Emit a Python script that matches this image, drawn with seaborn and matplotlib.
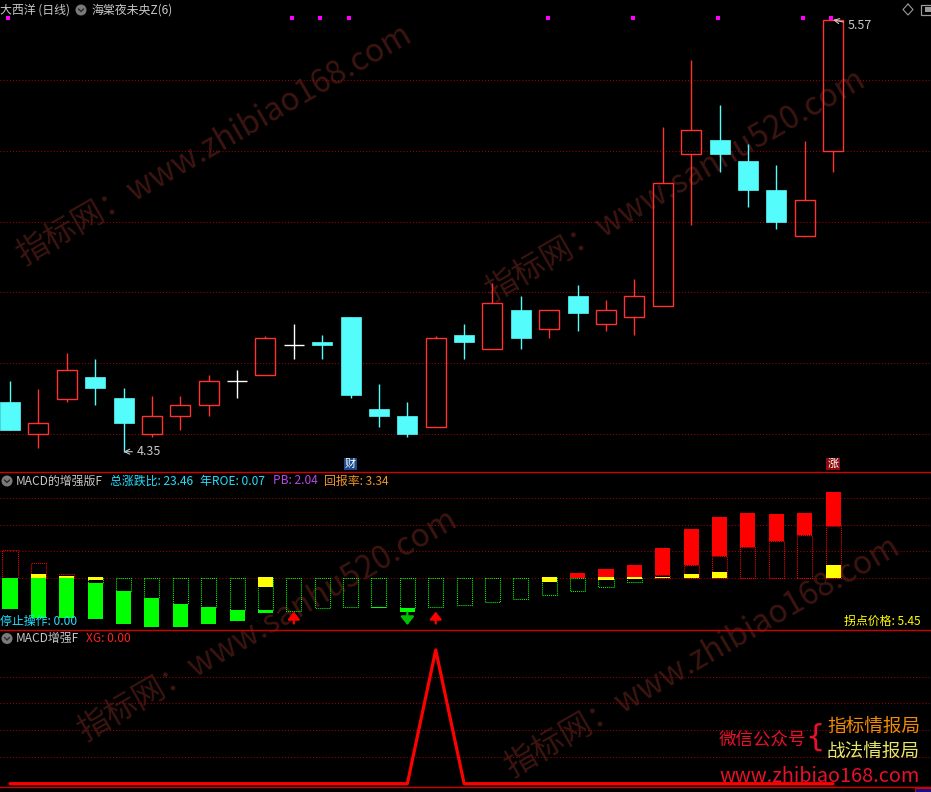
import numpy as np
import pandas as pd
import seaborn as sns
import matplotlib.pyplot as plt
from matplotlib.patches import Rectangle, Circle

# daily candles, prices
opens = [4.490, 4.400, 4.500, 4.561, 4.502, 4.399, 4.450, 4.481, 4.549, 4.568,
         4.651, 4.660, 4.731, 4.471, 4.451, 4.419, 4.680, 4.639, 4.749, 4.697,
         4.790, 4.710, 4.730, 4.761, 5.190, 5.231, 5.171, 5.089, 4.958, 5.199]
highs = [4.550, 4.527, 4.629, 4.612, 4.530, 4.507, 4.507, 4.567, 4.581, 4.677,
         4.711, 4.680, 4.731, 4.541, 4.490, 4.677, 4.711, 4.826, 4.790, 4.749,
         4.821, 4.779, 4.837, 5.267, 5.457, 5.329, 5.219, 5.160, 5.228, 5.570]
lows = [4.411, 4.361, 4.491, 4.483, 4.350, 4.392, 4.412, 4.452, 4.503, 4.568,
        4.612, 4.613, 4.503, 4.421, 4.392, 4.419, 4.613, 4.639, 4.641, 4.672,
        4.692, 4.692, 4.681, 4.761, 4.991, 5.141, 5.042, 4.980, 4.958, 5.141]
closes = [4.411, 4.430, 4.581, 4.531, 4.432, 4.450, 4.481, 4.550, 4.549, 4.670,
          4.651, 4.652, 4.511, 4.452, 4.401, 4.670, 4.661, 4.769, 4.672, 4.749,
          4.743, 4.749, 4.789, 5.108, 5.258, 5.192, 5.090, 5.000, 5.060, 5.570]
price_grid = [4.4, 4.6, 4.8, 5.0, 5.2, 5.4]
signal_days = [0, 10, 11, 12, 19, 22, 25, 28, 29]

# MACD enhanced panel (one grid step = 1)
hollow = [1.03, 0.54, 0.14, -0.20, -0.50, -0.77, -0.99, -1.11, -1.22, -1.22,
          -1.24, -1.16, -1.12, -1.12, -1.15, -1.12, -1.05, -0.91, -0.79, -0.64,
          -0.49, -0.34, -0.15, 0.10, 0.48, 0.82, 1.16, 1.38, 1.61, 1.94]
macd = [-1.18, -1.51, -1.51, -1.56, -1.75, -1.86, -1.86, -1.75, -1.64, -1.32,
        -1.24, -1.16, -1.12, -1.16, -1.28, -1.12, -1.05, -0.91, -0.79, -0.64,
        0.18, 0.33, 0.48, 1.12, 1.84, 2.29, 2.44, 2.40, 2.44, 3.24]
yellow_top = [0, 0.14, 0.06, 0.03, 0, 0, 0, 0, 0, 0.03,
              0, 0, 0, 0, 0, 0, 0, 0, 0, 0.03,
              0, 0.03, 0.03, 0.03, 0.14, 0.22, 0, 0, 0, 0.48]
yellow_bot = [0, -0.01, 0, -0.09, 0, 0, 0, 0, 0, -0.34,
              0, 0, 0, 0, 0, 0, 0, 0, 0, -0.15,
              0, -0.09, -0.05, 0, 0, 0, 0, 0, 0, 0]
buy_days = [10, 15]
sell_days = [14]

# XG selection line
xg = [0, 0, 0, 0, 0, 0, 0, 0, 0, 0, 0, 0, 0, 0, 0, 1, 0, 0, 0, 0, 0, 0, 0, 0, 0, 0, 0, 0, 0, 0]

RED = '#ff3232'
CYAN = '#54fcfc'
GRID = '#a00000'
W, H = 931, 792

sns.set_theme(style='dark', rc={'axes.facecolor': 'black', 'figure.facecolor': 'black'})
plt.rcParams['font.family'] = ['Noto Sans CJK SC', 'DejaVu Sans']

fig = plt.figure(figsize=(W / 100, H / 100), dpi=100, facecolor='black')


def pixel_axes(z):
    a = fig.add_axes([0, 0, 1, 1], zorder=z)
    a.set_xlim(0, W)
    a.set_ylim(H, 0)
    a.set_axis_off()
    return a


def panel(top, bottom, ylim):
    a = fig.add_axes([0, 1 - bottom / H, 1, (bottom - top) / H], zorder=2)
    a.set_facecolor('none')
    a.set_axis_off()
    a.set_xlim(-0.352, 32.45)
    a.set_ylim(*ylim)
    return a


bg = pixel_axes(0)
fg = pixel_axes(5)

# watermarks
marks = [(214, 145, '指标网：www.zhibiao168.com'), (675, 185, '指标网：www.sanhu520.com'),
         (267, 625, '指标网：www.sanhu520.com'), (702, 657, '指标网：www.zhibiao168.com')]
for x, y, s in marks:
    bg.text(x, y, s, rotation=30, rotation_mode='anchor', ha='center', va='center',
            fontsize=23, color='#3c1511')

# ---- candles ----
ax1 = panel(0, 471, (4.2955, 5.626))
df = pd.DataFrame({'open': opens, 'high': highs, 'low': lows, 'close': closes})
df['day'] = np.arange(len(df))
for y in price_grid:
    ax1.axhline(y, color=GRID, lw=0.75, linestyle=(0, (1, 2)), zorder=1)

bw = 0.705
for d, o, h, l, c in df[['day', 'open', 'high', 'low', 'close']].itertuples(index=False):
    if c > o:
        ax1.add_patch(Rectangle((d - bw / 2, o), bw, c - o, fill=False, edgecolor=RED, lw=1, zorder=3))
        if h > c:
            ax1.vlines(d, c, h, color=RED, lw=1, zorder=3)
        if l < o:
            ax1.vlines(d, l, o, color=RED, lw=1, zorder=3)
    elif c < o:
        ax1.vlines(d, l, h, color=CYAN, lw=1, zorder=3)
        ax1.add_patch(Rectangle((d - bw / 2, c), bw, o - c, facecolor=CYAN, edgecolor=CYAN, lw=0.5, zorder=3))
    else:
        ax1.vlines(d, l, h, color='white', lw=1, zorder=3)
        ax1.hlines(o, d - bw / 2, d + bw / 2, color='white', lw=1, zorder=3)

ax1.scatter(np.array(signal_days) - 0.06, [0.961] * len(signal_days), transform=ax1.get_xaxis_transform(),
            marker='s', s=5, color='#ff00ff', lw=0, zorder=4)

lo = int(df['low'].idxmin())
hi = int(df['high'].idxmax())
ax1.annotate(f"{df['low'][lo]:.2f}", xy=(lo, df['low'][lo]), xytext=(9.7, 0), textcoords='offset points',
             ha='left', va='center', color='#c8c8c8', fontsize=9,
             arrowprops=dict(arrowstyle='->', color='#c8c8c8', lw=0.8, shrinkA=1, shrinkB=0))
ax1.annotate(f"{df['high'][hi]:.2f}", xy=(hi, df['high'][hi]), xytext=(10.8, -4.1), textcoords='offset points',
             ha='left', va='center', color='#c8c8c8', fontsize=9,
             arrowprops=dict(arrowstyle='->', color='#c8c8c8', lw=0.8, shrinkA=1, shrinkB=0))

ax1.text(12, 0.015, '财', transform=ax1.get_xaxis_transform(), ha='center', va='center', color='white',
         fontsize=8, bbox=dict(boxstyle='square,pad=0.12', fc='#1c4a8c', ec='none'), zorder=4)
ax1.text(29, 0.015, '涨', transform=ax1.get_xaxis_transform(), ha='center', va='center', color='white',
         fontsize=8, bbox=dict(boxstyle='square,pad=0.12', fc='#8c0a0a', ec='none'), zorder=4)

# ---- MACD enhanced ----
ax2 = panel(472, 629, (-1.938, 3.993))
for y in [0, 1, 2, 3]:
    ax2.axhline(y, color=GRID, lw=0.75, linestyle=(0, (1, 2)), zorder=1)

days = np.arange(len(macd))
hv = np.array(hollow)
mv = np.array(macd)
base = np.where(hv * mv > 0, hv, 0.0)
mw = 0.53
ax2.bar(days, hv, width=mw, fill=False, linestyle=(0, (1, 1)), linewidth=0.75,
        edgecolor=np.where(hv > 0, '#ff0000', '#00ff00'), zorder=2)
ax2.bar(days, mv - base, bottom=base, width=mw, linewidth=0,
        color=np.where(mv > 0, '#ff0000', '#00ff00'), zorder=3)
yt = np.array(yellow_top)
yb = np.array(yellow_bot)
ax2.bar(days, yt - yb, bottom=yb, width=mw, linewidth=0, color='#ffff00', zorder=4)

for d in buy_days:
    ax2.annotate('', xy=(d, -1.28), xytext=(d, -1.73),
                 arrowprops=dict(arrowstyle='-|>,head_width=0.35,head_length=0.45', color='#ff0000',
                                 lw=1.6, mutation_scale=10, shrinkA=0, shrinkB=0))
for d in sell_days:
    ax2.annotate('', xy=(d, -1.79), xytext=(d, -1.32),
                 arrowprops=dict(arrowstyle='-|>,head_width=0.4,head_length=0.5', color='#00c000',
                                 lw=1.6, mutation_scale=10, shrinkA=0, shrinkB=0))

# ---- XG ----
ax3 = panel(629.5, 787, (-0.0247, 1.153))
for y in [0.2, 0.4, 0.6, 0.8]:
    ax3.axhline(y, color=GRID, lw=0.75, linestyle=(0, (1, 2)), zorder=1)
sns.lineplot(x=np.arange(len(xg)), y=xg, ax=ax3, color='#ff0000', linewidth=2.3, zorder=3)
ax3.set_axis_off()

# ---- separators, titles, icons ----
for y in [472, 629.5, 787]:
    fg.plot([0, W], [y, y], color='#d00000', lw=1)
fg.add_patch(Rectangle((915, 788), 16, 5, facecolor='#10108a', edgecolor='#d00000', lw=0.8))


def icon(x, y):
    fg.add_patch(Circle((x, y), 5.5, facecolor='#7a7a7a', edgecolor='none'))
    fg.plot([x - 2.5, x, x + 2.5], [y - 1, y + 1.5, y - 1], color='#2a2a2a', lw=1)


icon(81, 10)
icon(7, 481)
icon(7, 638.5)
fg.plot([908, 913, 908, 903, 908], [4, 9.5, 15, 9.5, 4], color='#9a9a9a', lw=0.8)
fg.add_patch(Rectangle((921, 4.5), 14, 10, facecolor='none', edgecolor='#9a9a9a', lw=0.9))
fg.add_patch(Rectangle((925, 7), 6, 5, facecolor='#9a9a9a', edgecolor='none'))

GRAY = '#c8c8c8'
fs = 8.6
fg.text(0, 10, '大西洋 (日线)', color=GRAY, fontsize=fs, va='center', ha='left')
fg.text(91, 10, '海棠夜未央Z(6)', color=GRAY, fontsize=fs, va='center', ha='left')

fg.text(16, 481, 'MACD的增强版F', color=GRAY, fontsize=fs, va='center', ha='left')
fg.text(110, 481, '总涨跌比: 23.46', color='#20e0ff', fontsize=fs, va='center', ha='left')
fg.text(200, 481, '年ROE: 0.07', color='#20e0ff', fontsize=fs, va='center', ha='left')
fg.text(273, 481, 'PB: 2.04', color='#b848e8', fontsize=fs, va='center', ha='left')
fg.text(324, 481, '回报率: 3.34', color='#f0962a', fontsize=fs, va='center', ha='left')
fg.text(0, 621.5, '停止操作: 0.00', color='#20e0ff', fontsize=fs, va='center', ha='left')
fg.text(921, 621.5, '拐点价格: 5.45', color='#ffff00', fontsize=fs, va='center', ha='right')

fg.text(16, 638.5, 'MACD增强F', color=GRAY, fontsize=fs, va='center', ha='left')
fg.text(86, 638.5, 'XG: 0.00', color='#ff2020', fontsize=fs, va='center', ha='left')

fg.text(719, 739, '微信公众号', color='#e8102a', fontsize=12.6, va='center', ha='left')
fg.text(815, 737, '{', color='#e8102a', fontsize=22, va='center', ha='center', family='DejaVu Sans')
fg.text(827, 726.5, '指标情报局', color='#f08c00', fontsize=13.4, va='center', ha='left')
fg.text(827, 751.5, '战法情报局', color='#e6e66a', fontsize=13.4, va='center', ha='left')
fg.text(719, 776, 'www.zhibiao168.com', color='#e8102a', fontsize=14.3, va='center', ha='left')

fig.savefig('out.png', dpi=100, facecolor='black')
plt.close(fig)
